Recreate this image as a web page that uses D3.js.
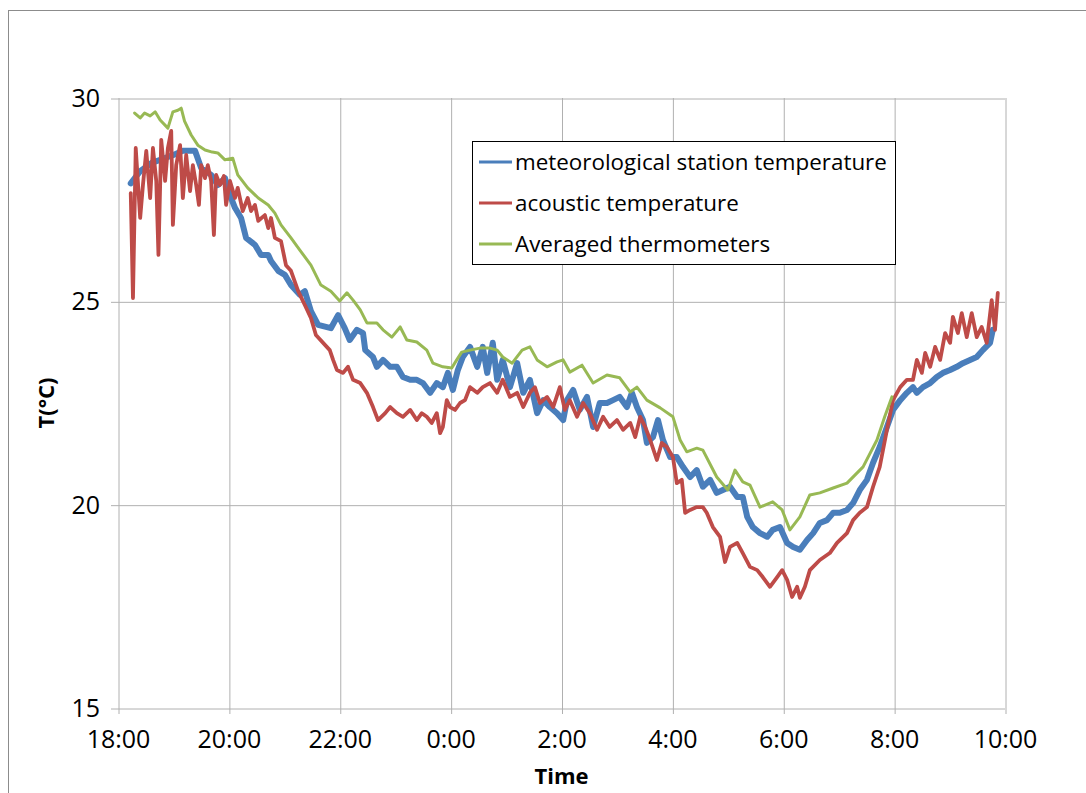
<!DOCTYPE html>
<html>
<head>
<meta charset="utf-8">
<script src="https://cdn.jsdelivr.net/npm/d3@7"></script>
<style>
  html, body { margin: 0; padding: 0; background: #fff; }
  svg { display: block; }
  text { font-family: "Open Sans", "Noto Sans", sans-serif; fill: #000; }
</style>
</head>
<body>
<script>
// ---- data (hours since 18:00, temperature °C) ----
const timeTickValues = [0, 2, 4, 6, 8, 10, 12, 14, 16];
const timeTickLabels = ["18:00", "20:00", "22:00", "0:00", "2:00", "4:00", "6:00", "8:00", "10:00"];
const tempTicks = [15, 20, 25, 30];

const seriesNames = ["meteorological station temperature", "acoustic temperature", "Averaged thermometers"];
const seriesColors = ["#4a7ebb", "#be4b48", "#98b954"];

const meteoTemp = [
  [0.23,27.9],[0.40,28.2],[0.60,28.4],[0.80,28.5],[1.00,28.6],[1.17,28.70],[1.39,28.70],[1.50,28.28],[1.68,28.11],
  [1.80,27.86],[1.93,28.03],[2.02,27.61],[2.11,27.30],[2.22,27.05],[2.31,26.56],[2.47,26.39],[2.58,26.14],
  [2.71,26.14],[2.76,25.99],[2.89,25.75],[3.01,25.65],[3.12,25.40],[3.28,25.16],[3.37,25.25],[3.48,24.76],
  [3.61,24.42],[3.84,24.34],[3.97,24.66],[4.09,24.34],[4.18,24.05],[4.31,24.30],[4.42,24.22],[4.46,23.80],
  [4.60,23.63],[4.67,23.39],[4.78,23.56],[4.91,23.39],[5.03,23.39],[5.14,23.14],[5.27,23.07],[5.39,23.07],
  [5.50,22.99],[5.63,22.75],[5.75,22.99],[5.86,22.89],[5.95,23.24],[6.04,22.82],[6.13,23.31],[6.22,23.63],
  [6.35,23.88],[6.48,23.39],[6.58,23.88],[6.66,23.24],[6.76,23.98],[6.84,23.07],[6.94,23.56],[7.07,22.89],
  [7.20,23.48],[7.31,22.75],[7.43,23.07],[7.56,22.25],[7.67,22.57],[7.79,22.40],[7.92,22.25],[8.03,22.08],
  [8.10,22.57],[8.21,22.82],[8.33,22.33],[8.46,22.65],[8.57,21.91],[8.69,22.50],[8.82,22.50],[8.93,22.57],
  [9.05,22.65],[9.18,22.40],[9.27,22.75],[9.36,22.40],[9.47,22.08],[9.54,21.52],[9.65,21.66],[9.74,22.08],
  [9.83,21.59],[9.96,21.17],[10.08,21.17],[10.19,20.93],[10.32,20.68],[10.44,20.85],[10.55,20.44],[10.68,20.61],
  [10.80,20.29],[10.91,20.36],[11.04,20.44],[11.17,20.19],[11.27,20.19],[11.35,19.70],[11.45,19.45],[11.58,19.30],
  [11.71,19.21],[11.81,19.38],[11.94,19.45],[12.07,19.06],[12.18,18.96],[12.30,18.89],[12.43,19.13],[12.54,19.30],
  [12.66,19.55],[12.79,19.62],[12.90,19.80],[13.02,19.80],[13.15,19.87],[13.26,20.04],[13.38,20.36],[13.51,20.61],
  [13.62,21.03],[13.74,21.42],[13.87,21.91],[13.98,22.33],[14.11,22.57],[14.23,22.75],[14.34,22.89],[14.41,22.75],
  [14.52,22.89],[14.65,22.99],[14.77,23.14],[14.88,23.24],[15.01,23.31],[15.13,23.39],[15.24,23.48],[15.37,23.56],
  [15.49,23.63],[15.60,23.80],[15.73,23.98],[15.78,24.30]
];

const acousticTemp = [
  [0.23,27.66],[0.27,25.08],[0.32,28.77],[0.40,27.05],[0.45,27.86],[0.51,28.70],[0.58,27.54],[0.63,28.77],
  [0.69,27.96],[0.73,26.14],[0.78,28.97],[0.85,27.96],[0.90,28.77],[0.96,29.19],[0.99,26.88],[1.05,28.35],
  [1.12,28.84],[1.17,27.54],[1.23,28.60],[1.30,27.71],[1.35,28.35],[1.41,27.86],[1.46,27.37],[1.50,28.35],
  [1.57,28.03],[1.62,28.35],[1.68,27.96],[1.73,26.63],[1.77,28.11],[1.84,27.86],[1.91,28.08],[1.95,27.37],
  [2.02,27.96],[2.11,27.54],[2.16,27.79],[2.25,27.22],[2.34,27.54],[2.40,27.22],[2.47,27.37],[2.53,26.98],
  [2.65,27.12],[2.71,26.80],[2.76,27.05],[2.83,26.56],[2.94,26.48],[3.03,25.89],[3.12,25.75],[3.25,25.25],
  [3.37,24.91],[3.48,24.59],[3.57,24.17],[3.82,23.80],[3.88,23.56],[3.95,23.31],[4.06,23.24],[4.15,23.39],
  [4.24,23.07],[4.37,22.99],[4.49,22.75],[4.60,22.40],[4.69,22.08],[4.82,22.25],[4.91,22.40],[5.03,22.25],
  [5.14,22.16],[5.27,22.33],[5.39,22.08],[5.48,22.25],[5.57,22.16],[5.66,22.01],[5.75,22.25],[5.81,21.76],
  [5.86,21.91],[5.93,22.57],[5.99,22.40],[6.08,22.33],[6.17,22.50],[6.26,22.57],[6.35,22.89],[6.48,22.75],
  [6.58,22.89],[6.71,22.99],[6.84,22.75],[6.94,23.07],[7.07,22.65],[7.20,22.75],[7.31,22.40],[7.43,22.75],
  [7.52,22.89],[7.61,22.50],[7.74,22.65],[7.85,22.40],[7.97,22.89],[8.06,22.33],[8.15,22.57],[8.28,22.16],
  [8.39,22.50],[8.51,22.25],[8.64,21.84],[8.75,22.16],[8.87,21.91],[9.00,22.08],[9.11,21.84],[9.24,22.01],
  [9.33,21.66],[9.42,22.16],[9.51,21.91],[9.60,21.59],[9.72,21.10],[9.81,21.52],[9.90,21.42],[10.01,21.17],
  [10.08,20.53],[10.17,20.61],[10.23,19.80],[10.32,19.87],[10.44,19.94],[10.55,19.94],[10.62,19.80],[10.73,19.45],
  [10.86,19.21],[10.95,18.59],[11.04,18.96],[11.17,19.06],[11.27,18.81],[11.40,18.47],[11.53,18.39],[11.63,18.22],
  [11.76,17.98],[11.89,18.22],[11.98,18.39],[12.07,18.15],[12.16,17.73],[12.25,17.98],[12.30,17.71],[12.39,17.98],
  [12.48,18.39],[12.66,18.64],[12.84,18.81],[12.97,19.06],[13.15,19.30],[13.26,19.62],[13.38,19.80],[13.51,19.94],
  [13.62,20.44],[13.74,20.93],[13.87,21.84],[13.98,22.57],[14.11,22.89],[14.23,23.07],[14.34,23.07],[14.41,23.56],
  [14.50,23.24],[14.56,23.73],[14.65,23.39],[14.74,23.88],[14.83,23.56],[14.92,24.22],[15.01,23.98],[15.06,24.62],
  [15.15,24.22],[15.22,24.71],[15.31,24.12],[15.40,24.71],[15.49,24.12],[15.58,24.37],[15.67,23.98],[15.76,25.03],
  [15.82,24.30],[15.87,25.21]
];

const averagedTemp = [
  [0.30,29.63],[0.40,29.51],[0.48,29.63],[0.58,29.56],[0.67,29.66],[0.76,29.46],[0.90,29.26],[0.99,29.66],
  [1.08,29.70],[1.14,29.75],[1.20,29.43],[1.32,29.09],[1.44,28.84],[1.57,28.72],[1.70,28.67],[1.80,28.65],
  [1.93,28.48],[2.07,28.52],[2.16,28.11],[2.34,27.79],[2.53,27.54],[2.71,27.37],[2.83,27.17],[2.94,26.88],
  [3.12,26.56],[3.28,26.26],[3.48,25.89],[3.66,25.40],[3.84,25.25],[4.00,25.01],[4.13,25.21],[4.24,25.03],
  [4.37,24.79],[4.49,24.47],[4.67,24.47],[4.78,24.30],[4.94,24.12],[5.09,24.37],[5.21,24.05],[5.39,24.00],
  [5.57,23.80],[5.68,23.48],[5.86,23.39],[6.02,23.36],[6.11,23.56],[6.20,23.75],[6.35,23.80],[6.53,23.85],
  [6.71,23.85],[6.84,23.80],[6.94,23.63],[7.11,23.48],[7.29,23.80],[7.43,23.88],[7.56,23.56],[7.74,23.39],
  [7.92,23.51],[8.03,23.56],[8.15,23.26],[8.37,23.43],[8.57,22.99],[8.82,23.19],[9.05,23.12],[9.24,22.77],
  [9.36,22.89],[9.54,22.57],[9.78,22.38],[10.01,22.16],[10.14,21.59],[10.26,21.30],[10.44,21.39],[10.55,21.34],
  [10.80,20.68],[11.00,20.36],[11.13,20.85],[11.27,20.56],[11.40,20.48],[11.58,19.94],[11.81,20.07],[11.98,19.87],
  [12.12,19.38],[12.30,19.70],[12.48,20.24],[12.66,20.29],[12.90,20.41],[13.15,20.53],[13.44,20.93],[13.69,21.59],
  [13.83,22.16],[13.96,22.65]
];

// ---- drawing ----
const W = 1086, H = 793;
const plot = { left: 118, right: 1005, top: 98, bottom: 708 };

const svg = d3.select("body").append("svg").attr("width", W).attr("height", H);

// outer chart frame
svg.append("rect").attr("x", 8.5).attr("y", 10.5).attr("width", 1100).attr("height", 800)
  .attr("fill", "none").attr("stroke", "#8c8c8c").attr("stroke-width", 1);

const x = d3.scaleLinear().domain([0, 16]).range([plot.left, plot.right]);
const y = d3.scaleLinear().domain([15, 30]).range([plot.bottom, plot.top]);

const gridColor = "#b0b0b0";

// horizontal gridlines + y axis
const yAxis = d3.axisLeft(y).tickValues(tempTicks).tickSize(plot.right - plot.left).tickPadding(12)
  .tickFormat(d3.format("d"));
const gy = svg.append("g").attr("transform", `translate(${plot.right},0)`).call(yAxis);
gy.select(".domain").remove();
gy.selectAll(".tick line").attr("stroke", gridColor).attr("transform", "translate(0,0.5)");
gy.selectAll(".tick").append("line")
  .attr("x1", -(plot.right - plot.left) - 7).attr("x2", -(plot.right - plot.left))
  .attr("y1", 0.5).attr("y2", 0.5).attr("stroke", gridColor);
gy.selectAll(".tick text").attr("x", -(plot.right - plot.left) - 18)
  .style("font-size", "25px").attr("dy", "0.34em");

// vertical gridlines + x axis
const xAxis = d3.axisBottom(x).tickValues(timeTickValues).tickSize(plot.bottom - plot.top + 6)
  .tickPadding(12).tickFormat((d, i) => timeTickLabels[i]);
const gx = svg.append("g").attr("transform", `translate(0,${plot.top})`).call(xAxis);
gx.select(".domain").remove();
gx.selectAll(".tick line").attr("stroke", gridColor).attr("transform", "translate(0.5,0)");
gx.selectAll(".tick text").style("font-size", "25px").attr("y", plot.bottom - plot.top + 22);

// axis titles
svg.append("text").attr("x", (plot.left + plot.right) / 2).attr("y", 784)
  .attr("text-anchor", "middle").style("font-size", "22px").style("font-weight", "bold").text("Time");
svg.append("text").attr("transform", `translate(54,${(plot.top + plot.bottom) / 2}) rotate(-90)`)
  .attr("text-anchor", "middle").style("font-size", "22px").style("font-weight", "bold").text("T(°C)");

// series
const line = d3.line().x(d => x(d[0])).y(d => y(d[1]));
const allSeries = [meteoTemp, acousticTemp, averagedTemp];
const widths = [6, 3.8, 3];
allSeries.forEach((s, i) => {
  svg.append("path").datum(s).attr("d", line)
    .attr("fill", "none").attr("stroke", seriesColors[i]).attr("stroke-width", widths[i])
    .attr("stroke-linejoin", "round").attr("stroke-linecap", "round");
});

// legend
const lg = svg.append("g");
lg.append("rect").attr("x", 472.5).attr("y", 141.5).attr("width", 423).attr("height", 123)
  .attr("fill", "#fff").attr("stroke", "#000").attr("stroke-width", 1);
seriesNames.forEach((n, i) => {
  const cy = 162 + i * 41;
  lg.append("line").attr("x1", 479).attr("x2", 512).attr("y1", cy).attr("y2", cy)
    .attr("stroke", seriesColors[i]).attr("stroke-width", 3);
  lg.append("text").attr("x", 515).attr("y", cy).attr("dy", "0.35em")
    .style("font-size", "22.4px").text(n);
});
</script>
</body>
</html>
